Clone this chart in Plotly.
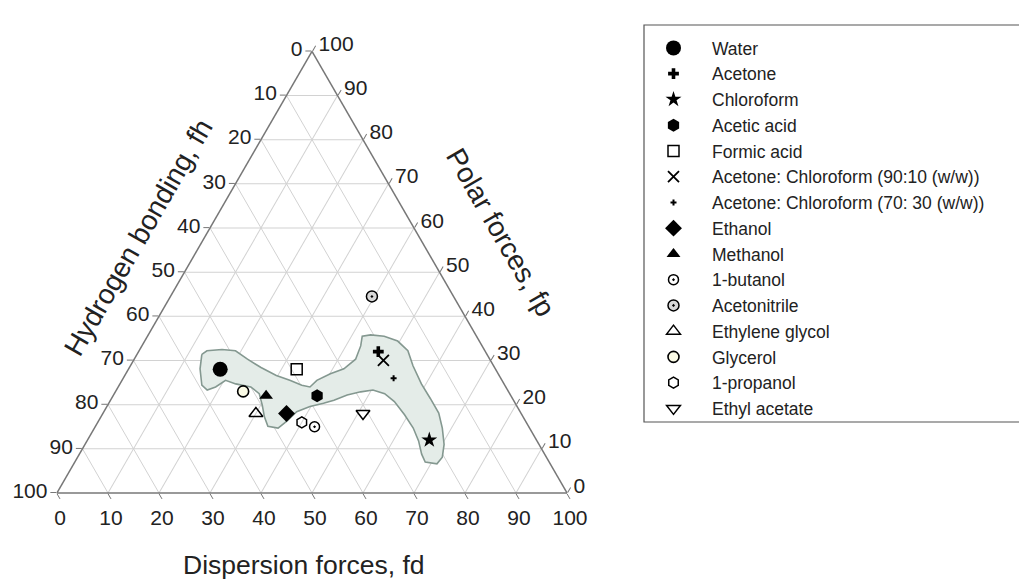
import plotly.graph_objects as go

# ---------------- data ----------------
solvents = ["Water", "Acetone", "Chloroform", "Acetic acid", "Formic acid",
            "Acetone: Chloroform (90:10 (w/w))", "Acetone: Chloroform (70: 30 (w/w))",
            "Ethanol", "Methanol", "1-butanol", "Acetonitrile", "Ethylene glycol",
            "Glycerol", "1-propanol", "Ethyl acetate"]
fd_vals = [18, 47, 67, 40, 33, 49, 53, 36, 30, 43, 39.5, 30, 25, 40, 51]
fp_vals = [28, 32, 12, 22, 28, 30, 26, 18, 22, 15, 44.5, 18, 23, 16, 18]
fh_vals = [54, 21, 21, 38, 39, 21, 21, 46, 48, 42, 16, 52, 52, 44, 31]

# solubility region boundary (fd, fp); fh follows from the sum of 100
region_fd = [12.7, 13.3, 16.1, 18.9, 22.2, 25.8, 29.7, 32.9, 35.8, 37.6, 38.2, 40.1,
             42.2, 43.4, 42.9, 42.1, 43.6, 46.4, 49.6, 52.7, 55.4, 59.1, 62.5, 65.8,
             68.2, 70.4, 71.5, 71.2, 68.7, 67.1, 65.0, 62.5, 59.3, 55.8, 53.0, 50.3,
             48.1, 45.8, 43.8, 42.1, 39.8, 37.8, 36.9, 36.0, 33.8, 32.0, 30.3, 28.4,
             26.0, 22.7, 20.3, 19.1, 17.8, 16.2, 14.0, 12.7]
region_fp = [31.4, 32.2, 32.5, 32.2, 30.3, 28.4, 26.6, 25.5, 24.4, 24.0, 25.5, 27.0,
             28.1, 30.3, 33.3, 35.5, 35.8, 35.5, 34.4, 32.2, 28.8, 24.7, 21.4, 18.1,
             14.7, 11.0, 8.1, 6.6, 7.0, 8.8, 11.8, 14.7, 17.7, 20.7, 22.5, 23.3,
             22.9, 22.2, 21.0, 20.3, 19.6, 18.4, 16.2, 14.7, 15.1, 17.3, 19.9, 22.5,
             24.0, 24.7, 25.5, 24.0, 23.3, 24.4, 28.1, 31.4]

tick_vals = [0, 10, 20, 30, 40, 50, 60, 70, 80, 90, 100]
tick_text = ["100", "90", "80", "70", "60", "50", "40", "30", "20", "10", "0"]

# ---------------- styles ----------------
styles = {
    "Water": dict(symbol="circle", size=15, color="black", line=dict(width=0)),
    "Acetone": dict(symbol="cross", size=9, color="black", line=dict(width=0)),
    "Chloroform": dict(symbol="star", size=12, color="black", line=dict(width=0)),
    "Acetic acid": dict(symbol="hexagon", size=13, color="black", line=dict(width=0)),
    "Formic acid": dict(symbol="square-open", size=11, color="black", line=dict(width=1.5)),
    "Acetone: Chloroform (90:10 (w/w))": dict(symbol="x-thin", size=11, color="black",
                                              line=dict(width=1.8, color="black")),
    "Acetone: Chloroform (70: 30 (w/w))": dict(symbol="cross", size=5, color="black", line=dict(width=0)),
    "Ethanol": dict(symbol="diamond", size=13, color="black", line=dict(width=0)),
    "Methanol": dict(symbol="triangle-up", size=12, color="black", line=dict(width=0)),
    "1-butanol": dict(symbol="circle-open-dot", size=10, color="black", line=dict(width=1.5)),
    "Acetonitrile": dict(symbol="circle-dot", size=11, color="#d8d8d8",
                         line=dict(width=1.5, color="black")),
    "Ethylene glycol": dict(symbol="triangle-up-open", size=12, color="black", line=dict(width=1.5)),
    "Glycerol": dict(symbol="circle", size=11, color="#fbfbe6", line=dict(width=1.6, color="black")),
    "1-propanol": dict(symbol="hexagon-open", size=11, color="black", line=dict(width=1.5)),
    "Ethyl acetate": dict(symbol="triangle-down-open", size=12, color="black", line=dict(width=1.5)),
}

FONT = "Arial, Liberation Sans, sans-serif"
W, H = 1027, 588


def px(x):
    return x / W


def py(y):
    return (H - y) / H


fig = go.Figure()

fig.add_trace(go.Scatterternary(
    a=region_fp, c=region_fd, sum=100,
    mode="lines", fill="toself", fillcolor="#e4ece8",
    line=dict(color="#849890", width=1.6), hoverinfo="skip", showlegend=False))

for name, fd, fp, fh in zip(solvents, fd_vals, fp_vals, fh_vals):
    fig.add_trace(go.Scatterternary(
        a=[fp], b=[fh], c=[fd], mode="markers", name=name,
        marker=styles[name]))

axis_common = dict(
    tickmode="array", tickvals=tick_vals, ticktext=tick_text,
    ticks="outside", ticklen=6, tickcolor="#777", tickwidth=1.2,
    linecolor="#777", linewidth=1.5, showline=True,
    showgrid=True, gridcolor="#d2d2d2", gridwidth=1,
    tickfont=dict(family=FONT, size=21, color="#222"),
    title=dict(text=""), min=0)

fig.update_layout(
    width=W, height=H,
    margin=dict(l=0, r=0, t=0, b=0),
    paper_bgcolor="white",
    font=dict(family=FONT, color="#222"),
    ternary=dict(
        sum=100,
        bgcolor="white",
        domain=dict(x=[px(49), px(559)], y=[py(485), py(43.3)]),
        aaxis=axis_common, baxis=axis_common, caxis=axis_common),
    legend=dict(x=px(627), y=py(22), xanchor="left", yanchor="top",
                font=dict(family=FONT, size=17.5, color="#222"),
                bgcolor="rgba(0,0,0,0)", borderwidth=0, itemwidth=67,
                tracegroupgap=0),
    shapes=[dict(type="rect", xref="paper", yref="paper",
                 x0=px(636), x1=px(1014), y0=py(414), y1=py(17),
                 line=dict(color="#555", width=1.2), fillcolor="rgba(0,0,0,0)")],
    annotations=[
        dict(text="Hydrogen bonding, fh", x=px(130), y=py(229),
             xref="paper", yref="paper", showarrow=False, textangle=-60,
             xanchor="center", yanchor="middle",
             font=dict(family=FONT, size=28, color="#222")),
        dict(text="Polar forces, fp", x=px(493), y=py(224),
             xref="paper", yref="paper", showarrow=False, textangle=60,
             xanchor="center", yanchor="middle",
             font=dict(family=FONT, size=28, color="#222")),
        dict(text="Dispersion forces, fd", x=px(296), y=py(557),
             xref="paper", yref="paper", showarrow=False,
             xanchor="center", yanchor="middle",
             font=dict(family=FONT, size=26.5, color="#222")),
    ],
)

fig.write_html("out.html")
